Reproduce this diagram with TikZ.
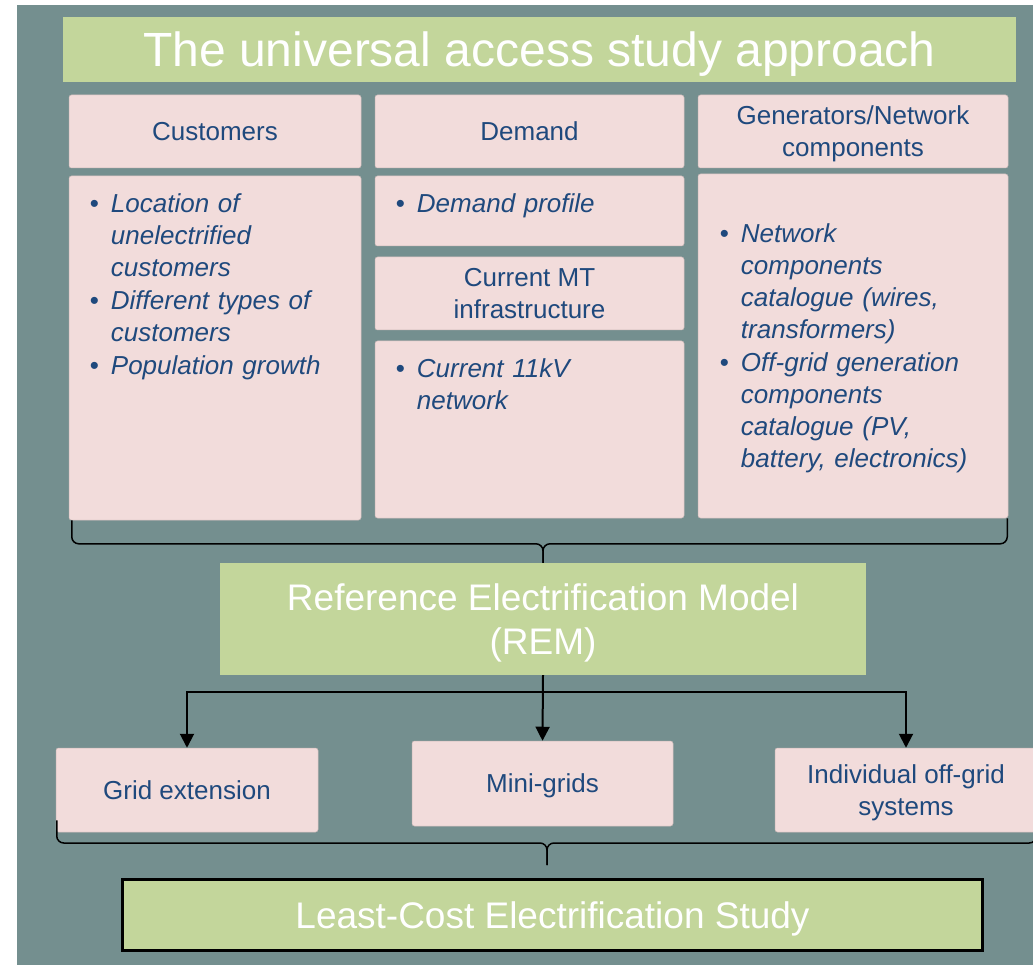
\documentclass[tikz,border=0pt]{standalone}
\usepackage{fontspec}
\setmainfont{Liberation Sans}
\usetikzlibrary{arrows.meta}

\definecolor{slate}{HTML}{748F8F}
\definecolor{leaf}{HTML}{C3D69B}
\definecolor{blush}{HTML}{F2DCDB}
\definecolor{navy}{HTML}{1F497D}
\setlength{\lineskip}{0pt}

% bullet followed by an italic block of lines
\newcommand{\bitem}[1]{\makebox[21pt][l]{\textbullet}{\itshape\begin{tabular}[t]{@{}l@{}}#1\end{tabular}}}

\begin{document}
\begin{tikzpicture}[x=1pt,y=-1pt,
    title/.style={fill=leaf,text=white,inner sep=0pt,text depth=0pt,font=\fontsize{48}{56}\selectfont},
    panel/.style={rectangle,rounded corners=2.5pt,fill=blush,draw=blush!85!black,line width=0.5pt,inner sep=0pt},
    head/.style={panel,text=navy,align=center,text depth=0pt,font=\fontsize{26}{32}\selectfont},
    bullets/.style={anchor=north west,inner sep=0pt,text width=280pt,align=left,text=navy,font=\fontsize{26}{32}\selectfont},
    model/.style={fill=leaf,text=white,align=center,inner sep=0pt,text depth=0pt,font=\fontsize{37}{44.5}\selectfont},
    brace/.style={line width=1.5pt,rounded corners=7pt},
    arrow/.style={-{Triangle[width=14pt,length=14pt]},line width=2pt}]
    \useasboundingbox (0,0) rectangle (1033,965);
    \fill[slate] (17,5) rectangle (1040,970);

    \node[title,minimum width=953,minimum height=65] (title) at (539.5,49.5) {The universal access study approach};

    % inputs
    \node[head,minimum width=292,minimum height=73] (cust) at (215,131.5) {Customers};
    \node[head,minimum width=309,minimum height=73] (dem) at (529.5,131.5) {Demand};
    \node[head,minimum width=310,minimum height=73] (gen) at (853,131.5) {Generators/Network\\components};
    \node[panel,minimum width=292,minimum height=344] (custbody) at (215,348) {};
    \node[panel,minimum width=309,minimum height=70] (dembody) at (529.5,211) {};
    \node[head,minimum width=309,minimum height=73] (mt) at (529.5,293.5) {Current MT\\infrastructure};
    \node[panel,minimum width=309,minimum height=177] (kvbody) at (529.5,429.5) {};
    \node[panel,minimum width=310,minimum height=344] (genbody) at (853,346) {};

    \node[bullets] (custlist) at ([shift={(21pt,-14.6pt)}]custbody.north west)
        {\bitem{Location of\\unelectrified\\customers}\\\bitem{Different types of\\customers}\\\bitem{Population growth}};
    \node[bullets] (demlist) at ([shift={(21pt,-14.6pt)}]dembody.north west) {\bitem{Demand profile}};
    \node[bullets] (kvlist) at ([shift={(21pt,-14.6pt)}]kvbody.north west) {\bitem{Current 11kV\\network}};
    \node[bullets] (genlist) at ([shift={(22pt,-46.6pt)}]genbody.north west)
        {\bitem{Network\\components\\catalogue (wires,\\transformers)}\\\bitem{Off-grid generation\\components\\catalogue (PV,\\battery, electronics)}};

    % model
    \node[model,minimum width=646,minimum height=112] (rem) at (543,619) {Reference Electrification Model\\(REM)};
    \draw[brace] ([xshift=3pt]custbody.south west) |- ([yshift=19pt]rem.north) -- (rem.north);
    \draw[brace] ([xshift=-1pt]genbody.south east) |- ([yshift=19pt]rem.north) -- (rem.north);

    % options
    \node[head,minimum width=262,minimum height=84] (gridext) at (187,790) {Grid extension};
    \node[head,minimum width=261,minimum height=85] (minigrid) at (542.5,783.5) {Mini-grids};
    \node[head,minimum width=262,minimum height=84] (offgrid) at (906,790) {Individual off-grid\\systems};
    \coordinate (split) at ([yshift=-17pt]rem.south);
    \draw[arrow] (rem.south) -- (minigrid.north);
    \draw[arrow] (split) -| (gridext.north);
    \draw[arrow] (split) -| (offgrid.north);

    % result
    \node[model,draw=black,line width=3.5pt,minimum width=860,minimum height=71] (least) at (552.5,915) {Least-Cost Electrification Study};
    \coordinate (lowtip) at (547,865);
    \draw[brace] ([shift={(1pt,12pt)}]gridext.south west) |- ([yshift=22pt]lowtip) -- (lowtip);
    \draw[brace] ([shift={(-1pt,12pt)}]offgrid.south east) |- ([yshift=22pt]lowtip) -- (lowtip);
\end{tikzpicture}
\end{document}
